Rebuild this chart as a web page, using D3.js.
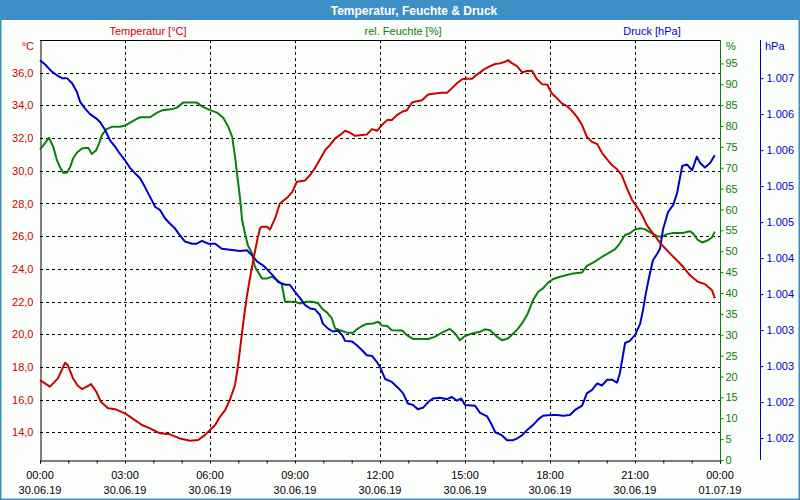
<!DOCTYPE html>
<html><head><meta charset="utf-8">
<script src="https://cdn.jsdelivr.net/npm/d3@7"></script>
<style>
html,body{margin:0;padding:0;background:#fcfefc;}
svg{display:block;font-family:"Liberation Sans",Arial,sans-serif;}
</style></head>
<body><svg id="c" width="800" height="500"></svg>
<script>
// ---- data (minutes after 30.06.19 00:00) ----
const tempTimes = [0,21,38,49,53,59,70,80,89,102,108,119,129,144,159,180,201,216,233,254,275,296,318,335,349,360,371,381,392,402,413,419,426,432,438,445,453,460,466,470,481,487,498,508,525,534,544,561,572,582,593,604,614,625,635,646,656,667,678,692,703,714,724,735,745,756,767,777,788,798,809,822,836,851,862,872,883,894,904,915,921,932,942,953,964,974,985,991,1000,1010,1021,1031,1042,1052,1063,1074,1084,1095,1105,1116,1127,1137,1148,1158,1169,1180,1190,1201,1211,1222,1232,1243,1254,1264,1275,1285,1298,1317,1334,1362,1376,1393,1408,1423,1429];
const tempValues = [17.2,16.8,17.3,18.0,18.26,18.1,17.3,16.85,16.65,16.85,16.95,16.5,15.87,15.47,15.42,15.16,14.75,14.45,14.24,13.94,13.88,13.63,13.49,13.53,13.83,14.14,14.45,14.95,15.36,15.98,16.9,18.0,19.65,21.07,22.3,23.5,24.74,25.76,26.48,26.58,26.58,26.4,27.1,28.0,28.4,28.7,29.33,29.4,29.74,30.15,30.7,31.27,31.57,31.98,32.18,32.45,32.33,32.14,32.18,32.22,32.55,32.45,32.8,33.1,33.1,33.41,33.61,33.7,34.18,34.26,34.32,34.67,34.73,34.77,34.77,35.04,35.35,35.6,35.63,35.63,35.8,36.02,36.24,36.4,36.53,36.57,36.67,36.77,36.57,36.4,36.02,36.1,36.12,35.61,35.3,35.28,34.73,34.43,34.12,33.96,33.65,33.3,32.8,32.08,31.77,31.63,31.1,30.7,30.35,30.09,29.74,28.92,28.2,27.8,27.29,26.68,26.17,25.46,24.95,24.13,23.62,23.21,23.07,22.7,22.2];

const humTimes = [0,6,19,28,36,42,49,57,64,70,78,89,102,110,119,125,131,140,152,169,180,191,205,212,233,248,260,280,290,303,318,332,345,360,375,388,398,407,413,419,424,428,434,440,449,455,470,481,491,502,512,519,529,540,551,563,578,589,597,608,618,625,640,650,663,671,682,692,705,716,724,735,745,767,777,790,805,822,836,851,868,879,889,900,915,932,942,953,968,978,991,1002,1012,1023,1033,1044,1055,1065,1076,1086,1101,1116,1129,1148,1158,1175,1192,1203,1218,1228,1239,1249,1260,1271,1281,1292,1307,1317,1328,1341,1362,1376,1383,1393,1402,1412,1423,1429];
const humValues = [74.4,75.2,77.2,75.0,71.8,70.2,68.8,68.8,70.2,72.2,73.6,74.6,74.8,73.3,74.2,75.8,77.8,79.2,79.8,79.8,80.1,80.8,81.7,82.1,82.1,83.2,83.8,84.1,84.4,85.6,85.6,85.6,84.6,83.8,83.2,82.0,80.0,77.4,72.6,67.0,62.3,57.5,54.3,51.5,49.5,46.3,43.5,43.5,43.9,43.1,42.1,37.9,37.9,37.9,37.5,37.9,37.9,37.5,36.3,35.3,33.9,31.5,30.9,30.5,30.5,31.3,32.1,32.6,32.7,33.1,32.2,32.1,31.1,31.0,29.9,29.0,29.0,29.0,29.5,30.5,31.4,30.3,28.7,29.7,30.3,30.7,31.3,31.1,29.5,28.7,29.1,30.3,31.4,33.1,35.1,38.3,40.3,41.1,42.5,43.3,43.9,44.3,44.7,44.9,46.5,47.5,48.8,49.5,50.5,51.9,53.9,54.3,55.2,55.5,55.3,54.5,53.6,53.5,54.1,54.4,54.4,54.8,54.3,52.7,52.1,52.5,53.3,54.7];

const presTimes = [0,11,25,36,47,57,68,78,85,95,106,121,127,138,148,159,169,180,191,201,212,222,233,244,254,265,275,286,296,307,322,332,343,356,371,385,398,424,438,449,460,472,483,493,504,519,529,540,551,561,572,582,593,599,610,620,631,640,646,661,671,682,692,703,714,720,731,745,758,769,779,790,800,811,822,832,847,862,872,883,892,900,921,932,947,957,964,978,989,1002,1012,1021,1033,1044,1055,1065,1080,1095,1108,1122,1133,1148,1158,1169,1180,1190,1201,1211,1222,1228,1239,1249,1260,1271,1277,1283,1290,1298,1307,1313,1319,1330,1341,1349,1360,1370,1381,1391,1398,1408,1419,1429];
const presValues = [1007.00,1006.94,1006.84,1006.79,1006.75,1006.75,1006.68,1006.56,1006.42,1006.33,1006.25,1006.18,1006.14,1006.03,1005.89,1005.80,1005.70,1005.61,1005.50,1005.43,1005.36,1005.24,1005.10,1004.96,1004.92,1004.80,1004.73,1004.66,1004.57,1004.48,1004.45,1004.45,1004.49,1004.45,1004.45,1004.38,1004.37,1004.35,1004.36,1004.29,1004.20,1004.15,1004.08,1004.01,1003.92,1003.88,1003.88,1003.78,1003.69,1003.60,1003.55,1003.54,1003.46,1003.34,1003.27,1003.23,1003.24,1003.18,1003.10,1003.09,1003.04,1002.97,1002.90,1002.89,1002.80,1002.74,1002.57,1002.53,1002.45,1002.37,1002.23,1002.21,1002.15,1002.17,1002.25,1002.30,1002.31,1002.29,1002.32,1002.27,1002.30,1002.21,1002.20,1002.10,1002.05,1001.93,1001.83,1001.79,1001.72,1001.72,1001.75,1001.79,1001.87,1001.93,1002.01,1002.06,1002.07,1002.07,1002.06,1002.07,1002.14,1002.20,1002.37,1002.42,1002.51,1002.48,1002.56,1002.56,1002.52,1002.65,1003.07,1003.10,1003.18,1003.34,1003.53,1003.76,1003.99,1004.22,1004.31,1004.38,1004.64,1004.89,1004.99,1005.15,1005.53,1005.55,1005.47,1005.66,1005.57,1005.51,1005.57,1005.68];

const tempTicks = [14,16,18,20,22,24,26,28,30,32,34,36];
const humTicks = [0,5,10,15,20,25,30,35,40,45,50,55,60,65,70,75,80,85,90,95];
const presTicks = [1001.75,1002.25,1002.75,1003.25,1003.75,1004.25,1004.75,1005.25,1005.75,1006.25,1006.75];
const title = "Temperatur, Feuchte & Druck";
const seriesNames = ["Temperatur [°C]","rel. Feuchte [%]","Druck [hPa]"];
const unitLabels = ["°C","%","hPa"];

// ---- setup ----
const RED="#cc0000", GREEN="#0a800a", BLUE="#0000cc";
const svg = d3.select("#c");
const L=40, R=720, T=40, B=460;
const de = d3.formatLocale({decimal:",",thousands:".",grouping:[3],currency:["","€"]});
const fTemp = de.format(".1f"), fPres = de.format(",.0f");
const t0 = new Date(2019,5,30,0,0);
const toDate = m => new Date(t0.getTime()+m*60000);

const x = d3.scaleTime().domain([t0, toDate(1440)]).range([L,R]);
const yT = d3.scaleLinear().domain([12.31,38.0]).range([B,T]);
const yH = d3.scaleLinear().domain([0,100.6]).range([B,T]);
const yP = d3.scaleLinear().domain([1001.445,1007.28]).range([B,T]);

// frame + title bar
svg.append("rect").attr("x",0).attr("y",0).attr("width",800).attr("height",500).attr("fill","#fcfefc");
svg.append("rect").attr("x",0.5).attr("y",0.5).attr("width",799).attr("height",499).attr("fill","none").attr("stroke","#3d8fc6").attr("stroke-width",2);
svg.append("rect").attr("x",0).attr("y",0).attr("width",800).attr("height",20).attr("fill","#3d8fc6");
svg.append("text").attr("x",414).attr("y",14.5).attr("text-anchor","middle").attr("fill","#fff")
  .attr("font-weight","bold").attr("font-size",12).text(title);

// legends
const legX=[148,403,652], legC=[RED,GREEN,BLUE];
seriesNames.forEach((n,i)=>svg.append("text").attr("x",legX[i]).attr("y",35).attr("text-anchor","middle")
  .attr("fill",legC[i]).attr("font-size",11).text(n));
svg.append("text").attr("x",34).attr("y",50).attr("text-anchor","end").attr("fill",RED).attr("font-size",11).text(unitLabels[0]);
svg.append("text").attr("x",726).attr("y",50).attr("fill",GREEN).attr("font-size",11).text(unitLabels[1]);
svg.append("text").attr("x",765).attr("y",50).attr("fill",BLUE).attr("font-size",11).text(unitLabels[2]);

// grid
const grid = svg.append("g").attr("stroke","#000").attr("stroke-width",1).attr("stroke-dasharray","3,3");
tempTicks.forEach(v=>{const yy=Math.round(yT(v))+0.5;
  grid.append("line").attr("x1",L).attr("x2",R).attr("y1",yy).attr("y2",yy);});
x.ticks(d3.timeHour.every(3)).forEach(d=>{const xx=Math.round(x(d))+0.5;
  if(xx>L+1 && xx<R-1) grid.append("line").attr("x1",xx).attr("x2",xx).attr("y1",T).attr("y2",B);});

// top border
svg.append("line").attr("x1",L).attr("x2",R).attr("y1",T+0.5).attr("y2",T+0.5).attr("stroke","#000");

// left temp axis
const gT = svg.append("g").attr("transform",`translate(${L+0.5},0)`)
  .call(d3.axisLeft(yT).tickValues(tempTicks).tickFormat(fTemp).tickSize(0).tickPadding(7));
gT.select(".domain").attr("stroke","#000");
gT.selectAll("text").attr("fill",RED).attr("font-size",11).attr("font-family","Liberation Sans, Arial, sans-serif");

// bottom axis
const gX = svg.append("g").attr("transform",`translate(0,${B+0.5})`)
  .call(d3.axisBottom(x).ticks(d3.timeHour.every(1)).tickSize(3).tickFormat(""));
gX.select(".domain").attr("stroke","#000");
gX.selectAll("line").attr("stroke","#000");
const ft=d3.timeFormat("%H:%M"), fd=d3.timeFormat("%d.%m.%y");
x.ticks(d3.timeHour.every(3)).forEach(d=>{
  const t=svg.append("text").attr("x",x(d)).attr("text-anchor","middle").attr("font-size",11).attr("fill","#000");
  t.append("tspan").attr("x",x(d)).attr("y",479).text(ft(d));
  t.append("tspan").attr("x",x(d)).attr("y",494).text(fd(d));
});

// humidity axis
const gH = svg.append("g").attr("transform",`translate(${R+0.5},0)`)
  .call(d3.axisRight(yH).tickValues(humTicks).tickFormat(d=>d).tickSize(3).tickPadding(2));
gH.select(".domain").attr("stroke",GREEN).attr("d",`M0,${T}V${B}`);
gH.selectAll("line").attr("stroke",GREEN);
gH.selectAll("text").attr("fill",GREEN).attr("font-size",11).attr("font-family","Liberation Sans, Arial, sans-serif");

// pressure axis
const gP = svg.append("g").attr("transform",`translate(760.5,0)`)
  .call(d3.axisRight(yP).tickValues(presTicks).tickFormat(fPres).tickSize(3).tickPadding(3));
gP.select(".domain").attr("stroke",BLUE).attr("d",`M0,${T}V${B}`);
gP.selectAll("line").attr("stroke",BLUE);
gP.selectAll("text").attr("fill",BLUE).attr("font-size",11).attr("font-family","Liberation Sans, Arial, sans-serif");

// series
function drawLine(times, vals, y, col){
  const data = times.map((t,i)=>[toDate(t), vals[i]]);
  svg.append("path").datum(data).attr("fill","none").attr("stroke",col).attr("stroke-width",2)
    .attr("stroke-linejoin","round")
    .attr("d", d3.line().x(d=>x(d[0])).y(d=>y(d[1])));
}
drawLine(humTimes, humValues, yH, GREEN);
drawLine(presTimes, presValues, yP, BLUE);
drawLine(tempTimes, tempValues, yT, RED);
</script></body></html>
